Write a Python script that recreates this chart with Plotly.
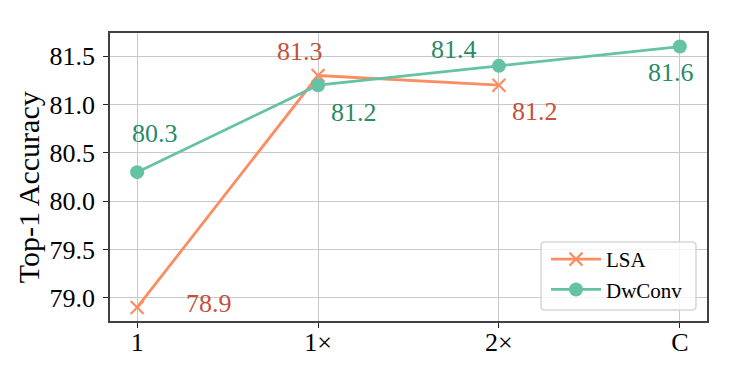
import plotly.graph_objects as go

categories = ["1", "1×", "2×", "C"]
lsa_values = [78.9, 81.3, 81.2]
dwconv_values = [80.3, 81.2, 81.4, 81.6]
y_ticks = [79.0, 79.5, 80.0, 80.5, 81.0, 81.5]

LSA_LINE = "#fc8d62"
DW_LINE = "#66c2a5"
LSA_TEXT = "#c4513a"
DW_TEXT = "#2a8a66"
FONT = "Liberation Serif"

xs = list(range(len(categories)))

fig = go.Figure()
fig.add_trace(go.Scatter(
    x=xs[:len(lsa_values)], y=lsa_values, name="LSA", mode="lines+markers",
    line=dict(color=LSA_LINE, width=2.8),
    marker=dict(symbol="x-thin", size=13, line=dict(color=LSA_LINE, width=2.2), color=LSA_LINE),
))
fig.add_trace(go.Scatter(
    x=xs, y=dwconv_values, name="DwConv", mode="lines+markers",
    line=dict(color=DW_LINE, width=2.8),
    marker=dict(symbol="circle", size=14, color=DW_LINE),
))

# label offsets (pixels) per point
lsa_shifts = [(72, 4), (-18, 24), (36, -26)]
dw_shifts = [(18, 39), (36, -27), (-45, 16), (-9, -26)]

annotations = []
for i, (v, (dx, dy)) in enumerate(zip(lsa_values, lsa_shifts)):
    annotations.append(dict(x=xs[i], y=v, xref="x", yref="y", text=f"{v:.1f}",
                            showarrow=False, xshift=dx, yshift=dy,
                            font=dict(family=FONT, size=26, color=LSA_TEXT)))
for i, (v, (dx, dy)) in enumerate(zip(dwconv_values, dw_shifts)):
    annotations.append(dict(x=xs[i], y=v, xref="x", yref="y", text=f"{v:.1f}",
                            showarrow=False, xshift=dx, yshift=dy,
                            font=dict(family=FONT, size=26, color=DW_TEXT)))

# y-axis title
annotations.append(dict(x=-0.137, y=0.465, xref="paper", yref="paper",
                        text="Top-1 Accuracy", textangle=-90, showarrow=False,
                        xanchor="center", yanchor="middle",
                        font=dict(family=FONT, size=30, color="black")))

# legend frame (rounded, light grey, semi-opaque white)
x0, x1 = (541 - 110) / 597, (696 - 110) / 597
y0, y1 = (321 - 310) / 288, (321 - 242) / 288
rx, ry = 4 / 597, 4 / 288
legend_path = (
    f"M {x0+rx},{y0} L {x1-rx},{y0} Q {x1},{y0} {x1},{y0+ry} "
    f"L {x1},{y1-ry} Q {x1},{y1} {x1-rx},{y1} L {x0+rx},{y1} "
    f"Q {x0},{y1} {x0},{y1-ry} L {x0},{y0+ry} Q {x0},{y0} {x0+rx},{y0} Z"
)

fig.update_layout(
    width=732, height=367,
    margin=dict(l=110, r=25, t=33, b=46, autoexpand=False),
    paper_bgcolor="white", plot_bgcolor="white",
    font=dict(family=FONT, size=26, color="black"),
    annotations=annotations,
    shapes=[dict(type="path", path=legend_path, xref="paper", yref="paper",
                 line=dict(color="#d6d6d6", width=1.5),
                 fillcolor="rgba(255,255,255,0.8)", layer="above")],
    showlegend=True,
    legend=dict(
        x=(546 - 110) / 597, y=(321 - 239) / 288, xanchor="left", yanchor="top",
        bgcolor="rgba(0,0,0,0)", borderwidth=0,
        font=dict(family=FONT, size=21, color="black"),
        itemwidth=50, tracegroupgap=0,
    ),
    xaxis=dict(
        tickmode="array", tickvals=xs, ticktext=categories,
        range=[-0.15, 3.15], automargin=False,
        showgrid=True, gridcolor="#c8c8c8", gridwidth=1.2,
        showline=True, linecolor="#404040", linewidth=1.5, mirror=True,
        ticks="outside", ticklen=5, tickcolor="#222", zeroline=False,
        ticklabelstandoff=-8,
        tickfont=dict(family=FONT, size=26, color="black"),
    ),
    yaxis=dict(
        tickmode="array", tickvals=y_ticks, ticktext=[f"{t:.1f}" for t in y_ticks],
        range=[78.76, 81.74], automargin=False,
        showgrid=True, gridcolor="#c8c8c8", gridwidth=1.2,
        showline=True, linecolor="#404040", linewidth=1.5, mirror=True,
        ticks="outside", ticklen=5, tickcolor="#222", zeroline=False,
        ticklabelstandoff=3,
        tickfont=dict(family=FONT, size=26, color="black"),
    ),
)

fig.write_html("out.html")
